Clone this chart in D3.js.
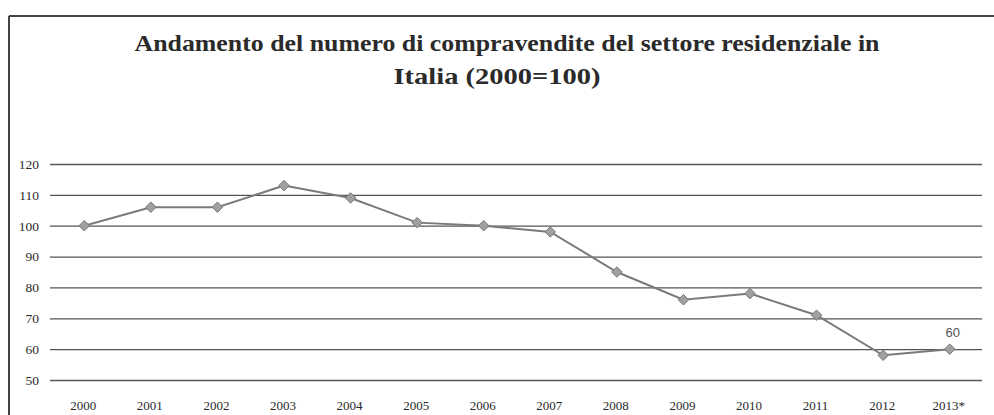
<!DOCTYPE html>
<html><head><meta charset="utf-8">
<script src="https://cdn.jsdelivr.net/npm/d3@7"></script>
<style>body{margin:0;background:#fff}svg{display:block}</style>
</head><body>
<svg id="c" width="994" height="415"></svg>
<script>
const years = ["2000","2001","2002","2003","2004","2005","2006","2007","2008","2009","2010","2011","2012","2013*"];
const values = [100,106,106,113,109,101,100,98,85,76,78,71,58,60];
const yTicks = [50,60,70,80,90,100,110,120];
const titleLines = ["Andamento del numero di compravendite del settore residenziale in","Italia (2000=100)"];
const lastLabel = "60";

(function(){
const svg = d3.select("#c");
const W = 994, H = 415;
const pL = 50, pR = 982, pT = 164, pB = 380;
const serif = "'Liberation Serif', 'Times New Roman', Times, serif";

// frame
svg.append("line").attr("x1",9).attr("x2",W).attr("y1",16).attr("y2",16).attr("stroke","#444").attr("stroke-width",2);
svg.append("line").attr("x1",9).attr("x2",9).attr("y1",16).attr("y2",H).attr("stroke","#444").attr("stroke-width",2);

// title
const tl = [{t:titleLines[0],y:51,len:745,cx:507},{t:titleLines[1],y:84,len:207,cx:497}];
svg.selectAll("text.title").data(tl).enter().append("text")
  .attr("class","title").attr("x",d=>d.cx).attr("y",d=>d.y).attr("text-anchor","middle")
  .attr("font-family",serif).attr("font-size",23).attr("font-weight","bold")
  .attr("fill","#2a2a2a").attr("textLength",d=>d.len).attr("lengthAdjust","spacingAndGlyphs")
  .text(d=>d.t);

const x = d3.scaleBand().domain(years).range([pL,pR]);
const y = d3.scaleLinear().domain([50,120]).range([pB,pT]);

// grid
const yAxis = d3.axisLeft(y).tickValues(yTicks).tickSize(-(pR-pL)).tickPadding(11).tickFormat(d3.format("d"));
const gy = svg.append("g").attr("transform",`translate(${pL},0)`).call(yAxis);
gy.select(".domain").remove();
gy.selectAll(".tick line").attr("stroke","#555").attr("stroke-width",1.3);
gy.selectAll(".tick text").attr("font-family",serif).attr("font-size",13.5).attr("fill","#2a2a2a");

const xAxis = d3.axisBottom(x).tickSize(0).tickPadding(0);
const gx = svg.append("g").attr("transform",`translate(0,${pB+25})`).call(xAxis);
gx.select(".domain").remove();
gx.selectAll(".tick text").attr("font-family",serif).attr("font-size",13).attr("fill","#2a2a2a").attr("dy","0.35em");

const cx = (d,i)=> x(years[i]) + x.bandwidth()/2 + 1;
const line = d3.line().x((d,i)=>cx(d,i)).y(d=>y(d));
svg.append("path").datum(values).attr("d",line).attr("fill","none").attr("stroke","#7a7a7a").attr("stroke-width",2);

svg.selectAll("path.m").data(values).enter().append("path").attr("class","m")
  .attr("transform",(d,i)=>`translate(${cx(d,i)},${y(d)})`)
  .attr("d",d3.symbol().type(d3.symbolDiamond2).size(70))
  .attr("fill","#a0a0a0").attr("stroke","#777").attr("stroke-width",1);

const li = values.length-1;
svg.append("text").attr("x",cx(values[li],li)+3).attr("y",y(values[li])-12)
  .attr("text-anchor","middle").attr("font-family","'Liberation Sans', Arial, sans-serif").attr("font-size",13).attr("fill","#555")
  .text(lastLabel);
})();
</script>
</body></html>
